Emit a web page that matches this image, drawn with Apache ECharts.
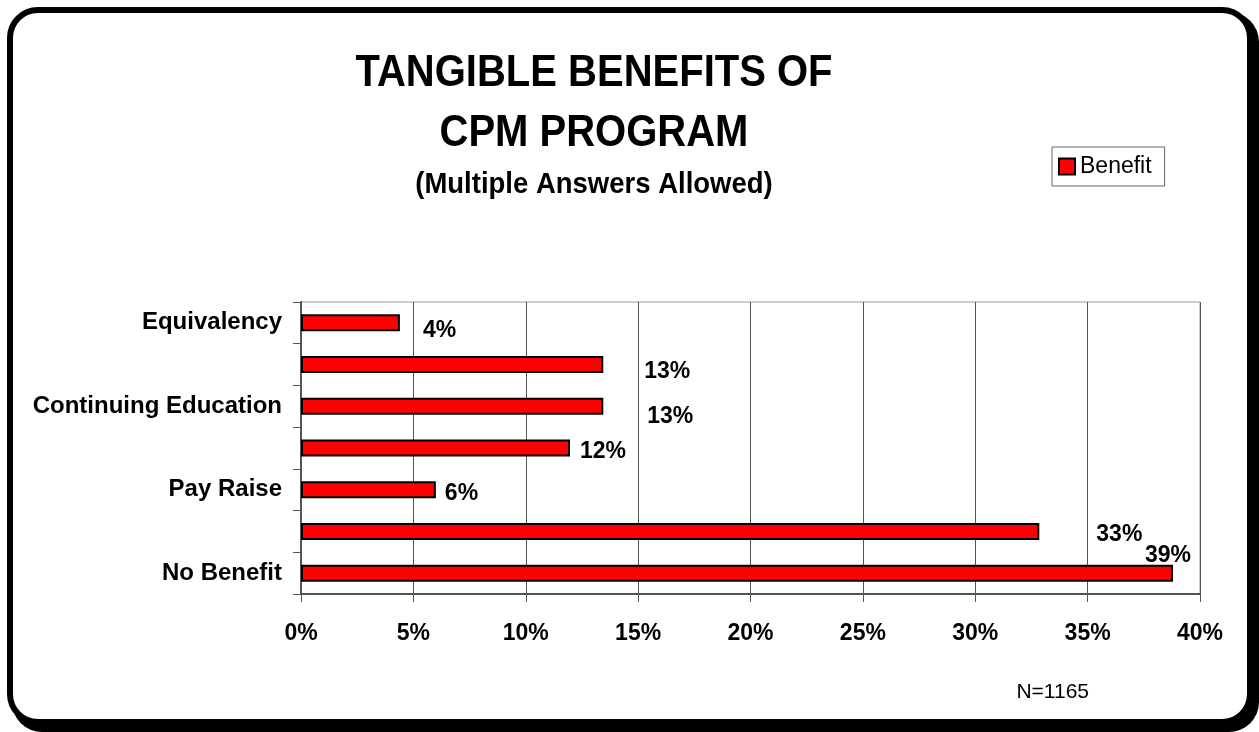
<!DOCTYPE html>
<html>
<head>
<meta charset="utf-8">
<script src="https://cdn.jsdelivr.net/npm/echarts@6/dist/echarts.min.js"></script>
<style>
  html, body { margin: 0; padding: 0; background: #fff; }
  #chart { width: 1259px; height: 732px; }
</style>
</head>
<body>
<div id="chart"></div>
<script>
var chart = echarts.init(document.getElementById('chart'));

// bottom to top, as the axis draws them (unlabelled rows have no name in the picture)
var categories = ['No Benefit', '', 'Pay Raise', '', 'Continuing Education', '', 'Equivalency'];
var benefit = [38.8, 32.85, 6.0, 11.97, 13.45, 13.45, 4.4];
var xTicks = [0, 5, 10, 15, 20, 25, 30, 35, 40];

// where each value label sits relative to its bar end (as in the original)
var labelNudge = [[-33, -17], [52, 3], [4, 4], [5, 4], [39, 10], [36, 7], [18, 8]];

var font = 'Liberation Sans, Arial, sans-serif';

option = {
    backgroundColor: '#fff',
    animation: false,
    grid: {
        left: 301,
        right: 59,
        top: 302,
        bottom: 138,
        show: true,
        borderColor: '#999',
        borderWidth: 1
    },
    legend: {
        left: 1052,
        top: 147,
        padding: [8, 13, 8, 6],
        borderColor: '#666',
        borderWidth: 1,
        itemWidth: 16,
        itemHeight: 16,
        icon: 'rect',
        textStyle: { fontFamily: font, fontSize: 23, color: '#000' },
        data: ['Benefit']
    },
    xAxis: {
        type: 'value',
        min: xTicks[0],
        max: xTicks[xTicks.length - 1],
        interval: 5,
        axisLine: { show: true, lineStyle: { color: '#555', width: 2 } },
        axisTick: { show: true, length: 8, lineStyle: { color: '#555' } },
        splitLine: { show: true, lineStyle: { color: '#555', width: 1 } },
        axisLabel: {
            margin: 28,
            formatter: '{value}%',
            fontFamily: font,
            fontSize: 23,
            fontWeight: 'bold',
            color: '#000'
        }
    },
    yAxis: {
        type: 'category',
        data: categories,
        axisLine: { show: true, lineStyle: { color: '#555', width: 2 } },
        axisTick: { show: true, length: 8, lineStyle: { color: '#555' } },
        axisLabel: {
            interval: 0,
            margin: 19,
            fontFamily: font,
            fontSize: 24,
            fontWeight: 'bold',
            color: '#000'
        }
    },
    series: [
        {
            name: 'Benefit',
            type: 'bar',
            barWidth: 17,
            itemStyle: { color: '#ff0000', borderColor: '#000', borderWidth: 2 },
            data: benefit.map(function (v, i) {
                return {
                    value: v,
                    label: { offset: labelNudge[i] }
                };
            }),
            label: {
                show: true,
                position: 'right',
                distance: 5,
                fontFamily: font,
                fontSize: 23,
                fontWeight: 'bold',
                color: '#000',
                formatter: function (p) { return Math.round(p.value) + '%'; }
            }
        }
    ],
    graphic: [
        {
            type: 'rect', z: -10, silent: true,
            shape: { x: 12, y: 12, width: 1247, height: 720, r: 30 },
            style: { fill: '#000' }
        },
        {
            type: 'rect', z: -9, silent: true,
            shape: { x: 10, y: 10, width: 1240, height: 712, r: 28 },
            style: { fill: '#fff', stroke: '#000', lineWidth: 6 }
        },
        {
            type: 'text', x: 594, y: 74, scaleY: 1.12,
            style: { text: 'TANGIBLE BENEFITS OF', fill: '#000', align: 'center', verticalAlign: 'middle',
                     font: 'bold 40px ' + font }
        },
        {
            type: 'text', x: 594, y: 134, scaleY: 1.12,
            style: { text: 'CPM PROGRAM', fill: '#000', align: 'center', verticalAlign: 'middle',
                     font: 'bold 40px ' + font }
        },
        {
            type: 'text', x: 594, y: 185, scaleY: 1.05,
            style: { text: '(Multiple Answers Allowed)', fill: '#000', align: 'center', verticalAlign: 'middle',
                     font: 'bold 27.5px ' + font }
        },
        {
            type: 'text', x: 1089, y: 692,
            style: { text: 'N=1165', fill: '#000', align: 'right', verticalAlign: 'middle',
                     font: '21px ' + font }
        }
    ]
};

chart.setOption(option);
</script>
</body>
</html>
